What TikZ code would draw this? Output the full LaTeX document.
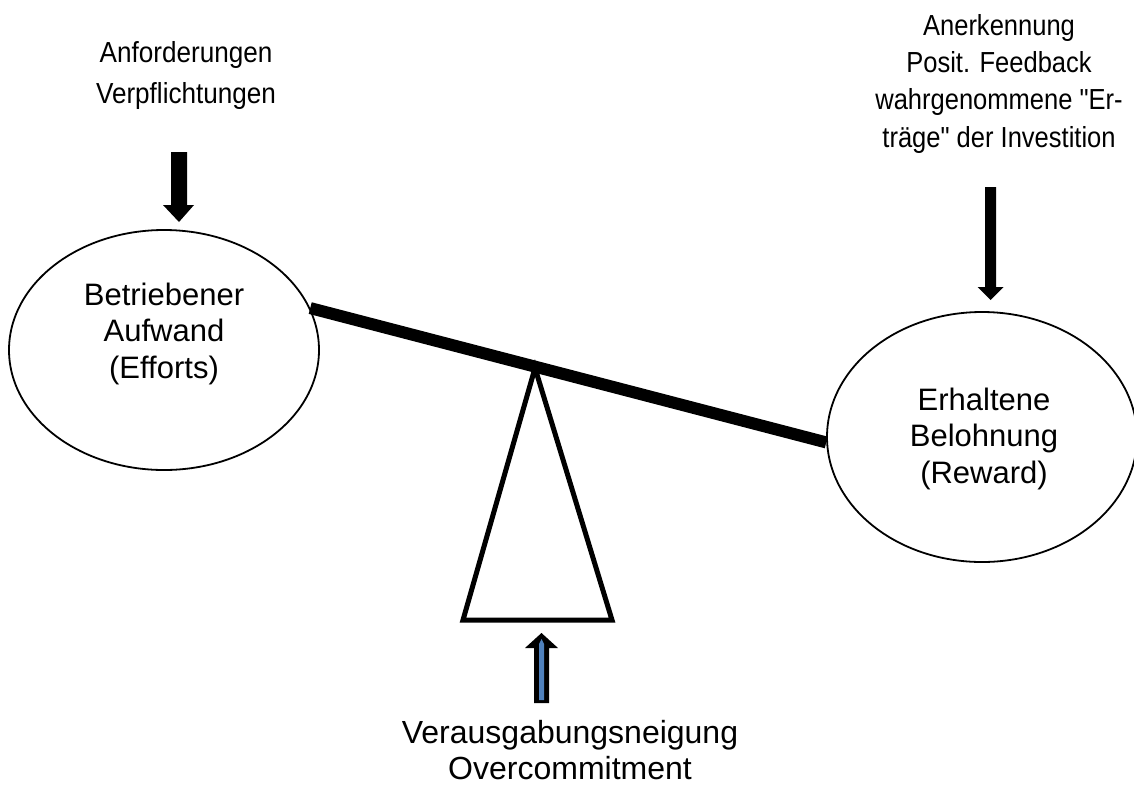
\documentclass[tikz,border=0pt]{standalone}
\usepackage{fontspec}
\setmainfont{Liberation Sans}
\newfontfamily\narrowL[FakeStretch=0.9]{Liberation Sans}
\newfontfamily\narrowR[FakeStretch=0.88]{Liberation Sans}
\usetikzlibrary{shapes.geometric}
\definecolor{arrowblue}{HTML}{4F81BD}
\tikzset{
  lbl/.style={inner sep=0pt, align=center, anchor=base},
  bubble/.style={ellipse, draw=black, line width=1.8pt, fill=white, inner sep=0pt},
  blockarrow/.style={fill=black, draw=none},
  beamline/.style={line width=12pt, line cap=butt},
  fulcrum/.style={line width=5pt, line join=miter, fill=white}
}
\begin{document}
\begin{tikzpicture}[x=1pt,y=-1pt]
\useasboundingbox (0,0) rectangle (1134,785);
% fulcrum
\coordinate (apex) at (535,368);
\coordinate (bl) at (463,620);
\coordinate (br) at (612,620);
\draw[fulcrum] (apex) -- (bl) -- (br) -- cycle;
% ellipses
\node[bubble, minimum width=310pt, minimum height=240pt] (effort) at (164,350) {};
\node[bubble, minimum width=310pt, minimum height=250pt] (reward) at (982,437) {};
% beam
\draw[beamline] (effort.16) -- (reward.182);
% texts (anchor base = baseline of the last line)
\node[lbl, font=\narrowL\fontsize{29}{41}\selectfont] (demand) at (186,103) {Anforderungen\\Verpflichtungen};
\node[lbl, font=\narrowR\fontsize{29}{37.3}\selectfont] (recog) at (999,147) {Anerkennung\\Posit. Feedback\\wahrgenommene "Er-\\träge" der Investition};
\node[lbl, font=\fontsize{31}{36.5}\selectfont] (efforttext) at (164,378) {Betriebener\\Aufwand\\(Efforts)};
\node[lbl, font=\fontsize{31}{36.5}\selectfont] (rewardtext) at (984,483) {Erhaltene\\Belohnung\\(Reward)};
\node[lbl, font=\fontsize{32}{36}\selectfont] (over) at (570,779) {Verausgabungsneigung\\Overcommitment};
% left block arrow
\fill[blockarrow] (171,152) -- (187,152) -- (187,205) -- (194,205) -- (179,222) -- (163,205) -- (171,205) -- cycle;
% right block arrow
\fill[blockarrow] (985,187) -- (996,187) -- (996,287) -- (1003.5,287) -- (990.5,300) -- (977.5,287) -- (985,287) -- cycle;
% bottom up arrow (blue with black outline)
\fill[blockarrow] (541.5,633) -- (558,648) -- (549,648) -- (549,703) -- (534,703) -- (534,648) -- (525,648) -- cycle;
\fill[arrowblue] (539,700) -- (544,700) -- (544,644) -- (541.5,639) -- (539,644) -- cycle;
\end{tikzpicture}
\end{document}
